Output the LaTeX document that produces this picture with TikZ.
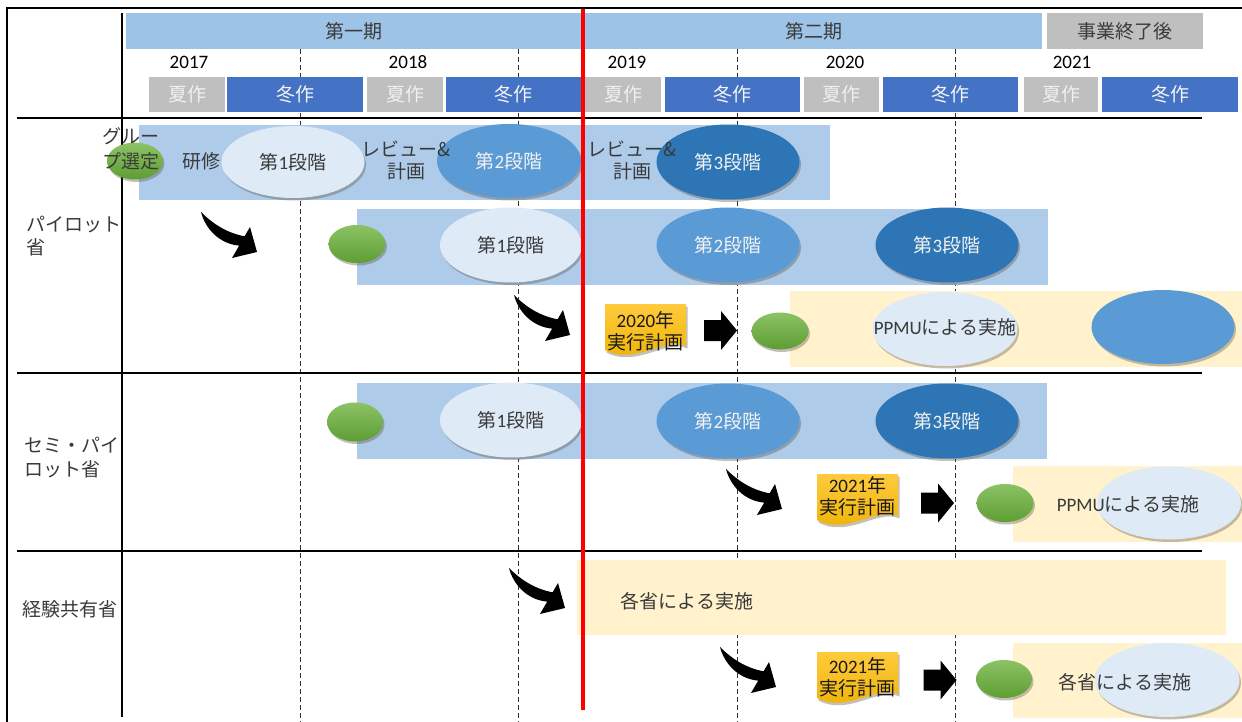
\documentclass[tikz,border=0pt]{standalone}
\usepackage{fontspec}
\setmainfont{Noto Sans CJK JP}
\newfontfamily\lat{Carlito}
\usetikzlibrary{shapes.geometric,shadows}
\definecolor{periodblue}{HTML}{9DC3E6}
\definecolor{bandblue}{HTML}{AECCEA}
\definecolor{sgray}{HTML}{BFBFBF}
\definecolor{wblue}{HTML}{4472C4}
\definecolor{elight}{HTML}{DEEBF7}
\definecolor{emid}{HTML}{5B9BD5}
\definecolor{edark}{HTML}{2E75B6}
\definecolor{cream}{HTML}{FFF2CC}
\definecolor{gtop}{HTML}{8CC265}
\definecolor{gbot}{HTML}{5D9E34}
\definecolor{ntop}{HTML}{FFCB3D}
\definecolor{nbot}{HTML}{EDB000}
\definecolor{txt}{HTML}{3A3A3A}
\definecolor{shadowc}{HTML}{5A4A3A}
\tikzset{
  f19/.style={font=\fontsize{19}{23}\selectfont},
  shad/.style={drop shadow={shadow xshift=1.5pt,shadow yshift=-2.5pt,opacity=0.35,fill=shadowc}},
  period/.style={fill=periodblue,inner sep=0,minimum height=35.5,f19,text=txt},
  endbox/.style={fill=sgray,inner sep=0,minimum height=35.5,f19,text=txt},
  summer/.style={fill=sgray,inner sep=0,minimum height=35.5,minimum width=76,f19,text=white!94!black},
  winter/.style={fill=wblue,inner sep=0,minimum height=35.5,minimum width=135,f19,text=white!96!black},
  year/.style={font=\lat\fontsize{19}{23}\selectfont,text=black},
  band/.style={fill=bandblue,inner sep=0,anchor=north west},
  creamband/.style={fill=cream,inner sep=0,anchor=north west},
  ell/.style={ellipse,inner sep=0,minimum width=143,minimum height=74,shad,f19},
  lightell/.style={ell,fill=elight,text=txt},
  midell/.style={ell,fill=emid,text=white!95!black},
  darkell/.style={ell,fill=edark,text=white!95!black},
  greenell/.style={ellipse,inner sep=0,minimum width=57,minimum height=38,top color=gtop,bottom color=gbot,shad},
  lbl/.style={f19,text=txt,align=left,anchor=west,inner sep=0},
  plain/.style={f19,text=txt,align=center,inner sep=0},
  notetext/.style={font=\fontsize{19}{22}\selectfont,text=black!90,align=center,inner sep=0},
  notepic/.pic={\shade[top color=ntop,bottom color=nbot,shad] (0,0) -- (81,0) -- (81,42) .. controls (60,32) and (30,62) .. (0,46) -- cycle;},
  blockarrow/.pic={\fill[black] (0,-10.5) -- (17,-10.5) -- (17,-19.5) -- (33,0) -- (17,19.5) -- (17,10.5) -- (0,10.5) -- cycle;},
  bendarrow/.pic={\fill[black] (0,0) .. controls (12,12) and (26,21) .. (43.6,24.3) -- (49,15) -- (56,40) -- (31,46) -- (38.2,33.6) .. controls (18,32) and (4,16) .. cycle;},
  dashln/.style={draw=black!80,line width=0.9pt,dash pattern=on 5pt off 3pt},
  gridline/.style={draw=black,line width=1.2pt}
}
\newcommand{\dan}[1]{第{\lat #1}段階}
\begin{document}
\begin{tikzpicture}[x=1pt,y=-1pt]
\useasboundingbox (0,0) rectangle (1242,722);
\fill[white] (0,0) rectangle (1242,722);
% dashed year lines
\foreach \xx/\nm in {300/d1,518/d2,737/d3,955/d4}{
  \coordinate (\nm t) at (\xx,49);
  \coordinate (\nm b) at (\xx,722);
  \draw[dashln] (\nm t) -- (\nm b);
}
% frame and grid
\coordinate (fbl) at (7,722); \coordinate (ftl) at (7,8); \coordinate (ftr) at (1242,8);
\draw[line width=2.2pt] (fbl) -- (ftl) -- (ftr);
\coordinate (vt) at (122,13); \coordinate (vb) at (122,717);
\draw[gridline] (vt) -- (vb);
\foreach \yy/\nm in {118/h1,373/h2,551/h3}{
  \coordinate (\nm l) at (17,\yy); \coordinate (\nm r) at (1202,\yy);
  \draw[gridline] (\nm l) -- (\nm r);
}
% periods
\node[period,minimum width=455] (p1) at (353.5,31.25) {第一期};
\node[period,minimum width=457] (p2) at (813.5,31.25) {第二期};
\node[endbox,minimum width=156] (p3) at (1125,31.25) {事業終了後};
% years
\node[year] (y17) at (189,62) {2017};
\node[year] (y18) at (408,62) {2018};
\node[year] (y19) at (627,62) {2019};
\node[year] (y20) at (845,62) {2020};
\node[year] (y21) at (1072,62) {2021};
% seasons
\node[summer] (s1) at (187,94.75) {夏作};
\node[winter,minimum width=136] (w1) at (295,94.75) {冬作};
\node[summer] (s2) at (405,94.75) {夏作};
\node[winter] (w2) at (513.5,94.75) {冬作};
\node[summer] (s3) at (623,94.75) {夏作};
\node[winter] (w3) at (732.5,94.75) {冬作};
\node[summer,minimum width=75] (s4) at (841.5,94.75) {夏作};
\node[winter] (w4) at (950.5,94.75) {冬作};
\node[summer,minimum width=74] (s5) at (1061,94.75) {夏作};
\node[winter,minimum width=136] (w5) at (1170,94.75) {冬作};
% row labels
\node[lbl,font=\fontsize{19}{23}\selectfont] (lab1) at (26,236.5) {パイロット\\省};
\node[lbl,font=\fontsize{19}{24}\selectfont] (lab2) at (24,458) {セミ・パイ\\ロット省};
\node[lbl] (lab3) at (22,609) {経験共有省};
% bands
\node[band,minimum width=691,minimum height=74.5] (b1a) at (139,125) {};
\node[band,minimum width=691,minimum height=75.5] (b1b) at (357,209) {};
\node[creamband,minimum width=452,minimum height=76] (b1c) at (790,291) {};
\node[band,minimum width=690,minimum height=76] (b2a) at (357,383) {};
\node[creamband,minimum width=229,minimum height=75.5] (b2b) at (1013,466) {};
\node[creamband,minimum width=649,minimum height=75] (b3a) at (577,560) {};
\node[creamband,minimum width=229,minimum height=75] (b3b) at (1013,643) {};
% row 1
\node[greenell,minimum width=56,minimum height=37] (g0) at (135,161) {};
\node[plain,font=\fontsize{19}{25}\selectfont] (t0) at (131,148.5) {グルー\\プ選定};
\node[plain] (t1) at (201,161) {研修};
\node[lightell,minimum width=143,minimum height=72] (l1) at (293,162) {\dan{1}};
\node[midell,minimum width=144] (m1) at (509,161) {\dan{2}};
\node[darkell,minimum height=75] (k1) at (728,162) {\dan{3}};
\node[plain,font=\fontsize{19}{22}\selectfont] (t2) at (406,160) {レビュー\&\\計画};
\node[plain,font=\fontsize{19}{22}\selectfont] (t3) at (632,160) {レビュー\&\\計画};
\node[greenell] (g1) at (357,244) {};
\node[lightell,minimum width=142,minimum height=75] (l2) at (511,245) {\dan{1}};
\node[midell,minimum height=75] (m2) at (728,245) {\dan{2}};
\node[darkell,minimum height=75] (k2) at (947,245) {\dan{3}};
\pic at (201,212) {bendarrow};
\pic at (514,295) {bendarrow};
\pic at (605,304) {notepic};
\node[notetext] (n1) at (645.5,331) {{\lat 2020}年\\実行計画};
\pic at (704,330.5) {blockarrow};
\node[greenell,minimum height=37] (g2) at (780,331) {};
\node[lightell,minimum width=145] (l3) at (945,329) {};
\node[plain] (t4) at (945,327) {{\lat PPMU}による実施};
\node[midell] (m3) at (1163,327) {};
% row 2
\node[greenell,minimum width=56,minimum height=39] (g3) at (355,422) {};
\node[lightell,minimum width=142,minimum height=75] (l4) at (511,420) {\dan{1}};
\node[midell,minimum height=75] (m4) at (728,421) {\dan{2}};
\node[darkell,minimum height=75] (k3) at (947,421) {\dan{3}};
\pic at (726,469) {bendarrow};
\pic at (817,474) {notepic};
\node[notetext] (n2) at (857.5,496) {{\lat 2021}年\\実行計画};
\pic at (921,503) {blockarrow};
\node[greenell] (g4) at (1005,503) {};
\node[lightell,minimum width=144,minimum height=73] (l5) at (1169,503) {};
\node[plain] (t5) at (1128,504) {{\lat PPMU}による実施};
% row 3
\node[plain] (t6) at (687,601) {各省による実施};
\pic at (509,568) {bendarrow};
\pic at (720,647) {bendarrow};
\pic at (817,652) {notepic};
\node[notetext] (n3) at (857.5,677) {{\lat 2021}年\\実行計画};
\pic at (923.5,680) {blockarrow};
\node[greenell,minimum width=56] (g5) at (1004,679) {};
\node[lightell,minimum width=145] (l6) at (1167,680) {};
\node[plain] (t7) at (1125,682) {各省による実施};
% red line
\coordinate (rt) at (583,9); \coordinate (rb) at (583,710);
\draw[red,line width=4.5pt] (rt) -- (rb);
\end{tikzpicture}
\end{document}
